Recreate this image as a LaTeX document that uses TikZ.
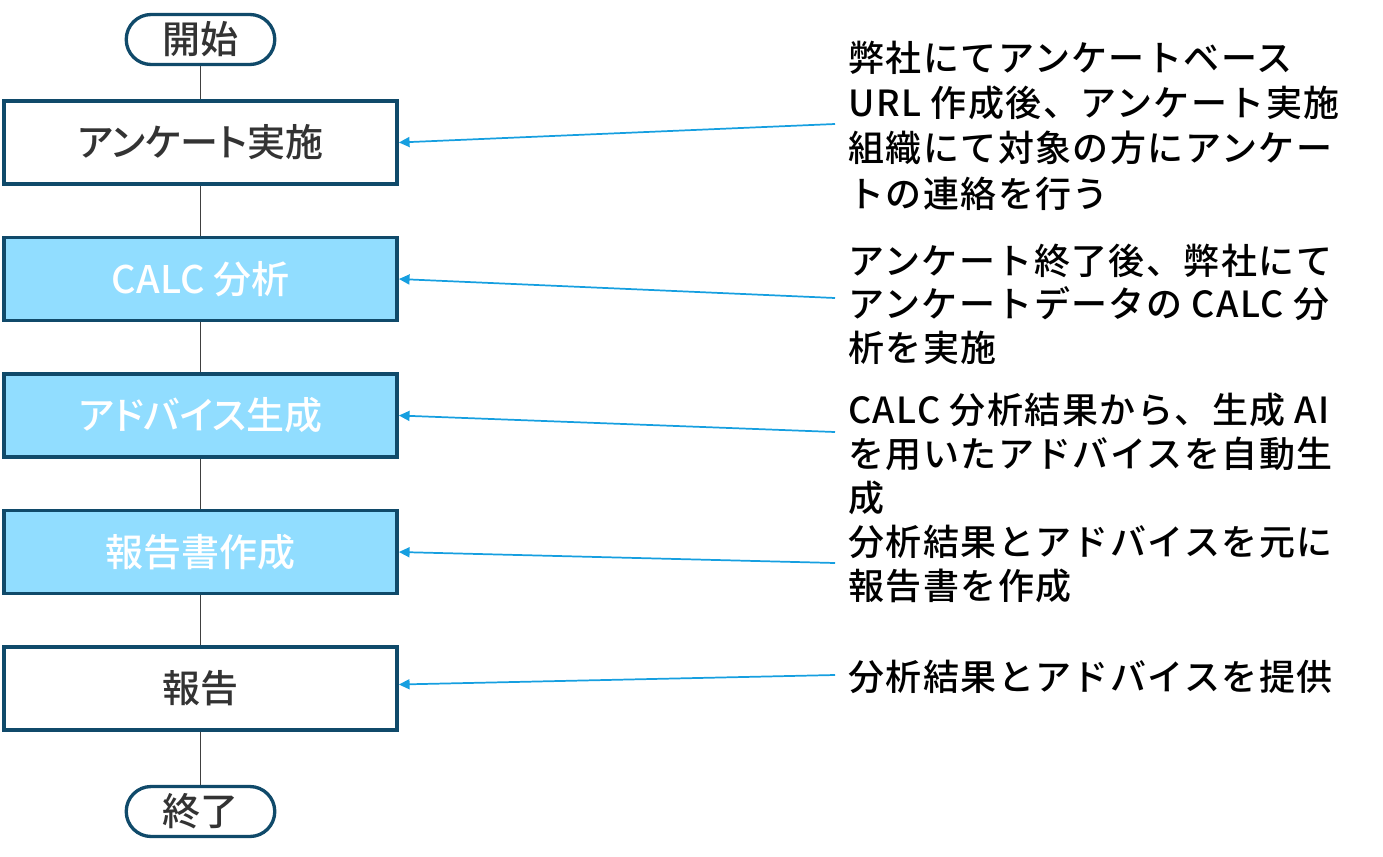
\documentclass[tikz,border=0pt]{standalone}
\usepackage{fontspec}
\setmainfont{Noto Sans CJK JP}
\newfontfamily\boxfont{Noto Sans CJK JP Medium}[RawFeature=+palt]
\newfontfamily\notefont{Noto Sans CJK JP Medium}[LetterSpace=4]
\usetikzlibrary{arrows.meta}
\definecolor{edgeteal}{HTML}{104A6A}
\definecolor{boxblue}{HTML}{91DDFF}
\definecolor{arrowblue}{HTML}{169FE0}
\definecolor{linkgray}{HTML}{404040}
\definecolor{txtgray}{HTML}{333333}
\tikzset{
  stepbox/.style={draw=edgeteal, line width=2.6pt, rectangle, minimum width=295pt, minimum height=62pt, inner sep=0pt, font=\boxfont\fontsize{28.5}{30}\selectfont, text=txtgray},
  bluebox/.style={stepbox, fill=boxblue, text=white},
  whitebox/.style={stepbox, fill=white},
  pill/.style={draw=edgeteal, line width=2.5pt, rectangle, rounded corners=18.7pt, minimum width=111.4pt, minimum height=37.5pt, inner sep=0pt, fill=white, font=\boxfont\fontsize{28.5}{30}\selectfont, text=txtgray},
  note/.style={anchor=base west, inner sep=0pt, align=left, text=black},
  link/.style={draw=linkgray, line width=1.2pt},
  pointer/.style={draw=arrowblue, line width=1.3pt, -{Triangle[length=8pt, width=7.5pt]}}
}
\begin{document}
\begin{tikzpicture}[x=0.75pt, y=-0.75pt]
\useasboundingbox (0,0) rectangle (1383,856);
\node[pill] (start) at (200.5,39.5) {開始};
\node[whitebox] (b1) at (200.5,142.5) {アンケート実施};
\node[bluebox] (b2) at (200.5,279) {CALC 分析};
\node[bluebox] (b3) at (200.5,415.5) {アドバイス生成};
\node[bluebox] (b4) at (200.5,552) {報告書作成};
\node[whitebox] (b5) at (200.5,688.5) {報告};
\node[pill] (stop) at (200.5,811.5) {終了};
\draw[link] (start) -- (b1);
\draw[link] (b1) -- (b2);
\draw[link] (b2) -- (b3);
\draw[link] (b3) -- (b4);
\draw[link] (b4) -- (b5);
\draw[link] (b5) -- (stop);
\node[note, font=\notefont\fontsize{27}{34}\selectfont] (t1) at (848,207) {弊社にてアンケートベース\\URL 作成後、アンケート実施\\組織にて対象の方にアンケー\\トの連絡を行う};
\node[note, font=\notefont\fontsize{27}{32.4}\selectfont] (t2) at (848,361) {アンケート終了後、弊社にて\\アンケートデータの CALC 分\\析を実施};
\node[note, font=\notefont\fontsize{27}{33}\selectfont] (t3) at (848,511) {CALC 分析結果から、生成 AI\\を用いたアドバイスを自動生\\成};
\node[note, font=\notefont\fontsize{27}{33}\selectfont] (t4) at (848,599) {分析結果とアドバイスを元に\\報告書を作成};
\node[note, font=\notefont\fontsize{27}{33}\selectfont] (t5) at (848,690) {分析結果とアドバイスを提供};
\coordinate (s1) at (835,124);
\coordinate (s2) at (835,298);
\coordinate (s3) at (835,432);
\coordinate (s4) at (835,563);
\coordinate (s5) at (835,675);
\draw[pointer] (s1) -- (b1.east);
\draw[pointer] (s2) -- (b2.east);
\draw[pointer] (s3) -- (b3.east);
\draw[pointer] (s4) -- (b4.east);
\draw[pointer] (s5) -- ([yshift=3pt]b5.east);
\end{tikzpicture}
\end{document}
